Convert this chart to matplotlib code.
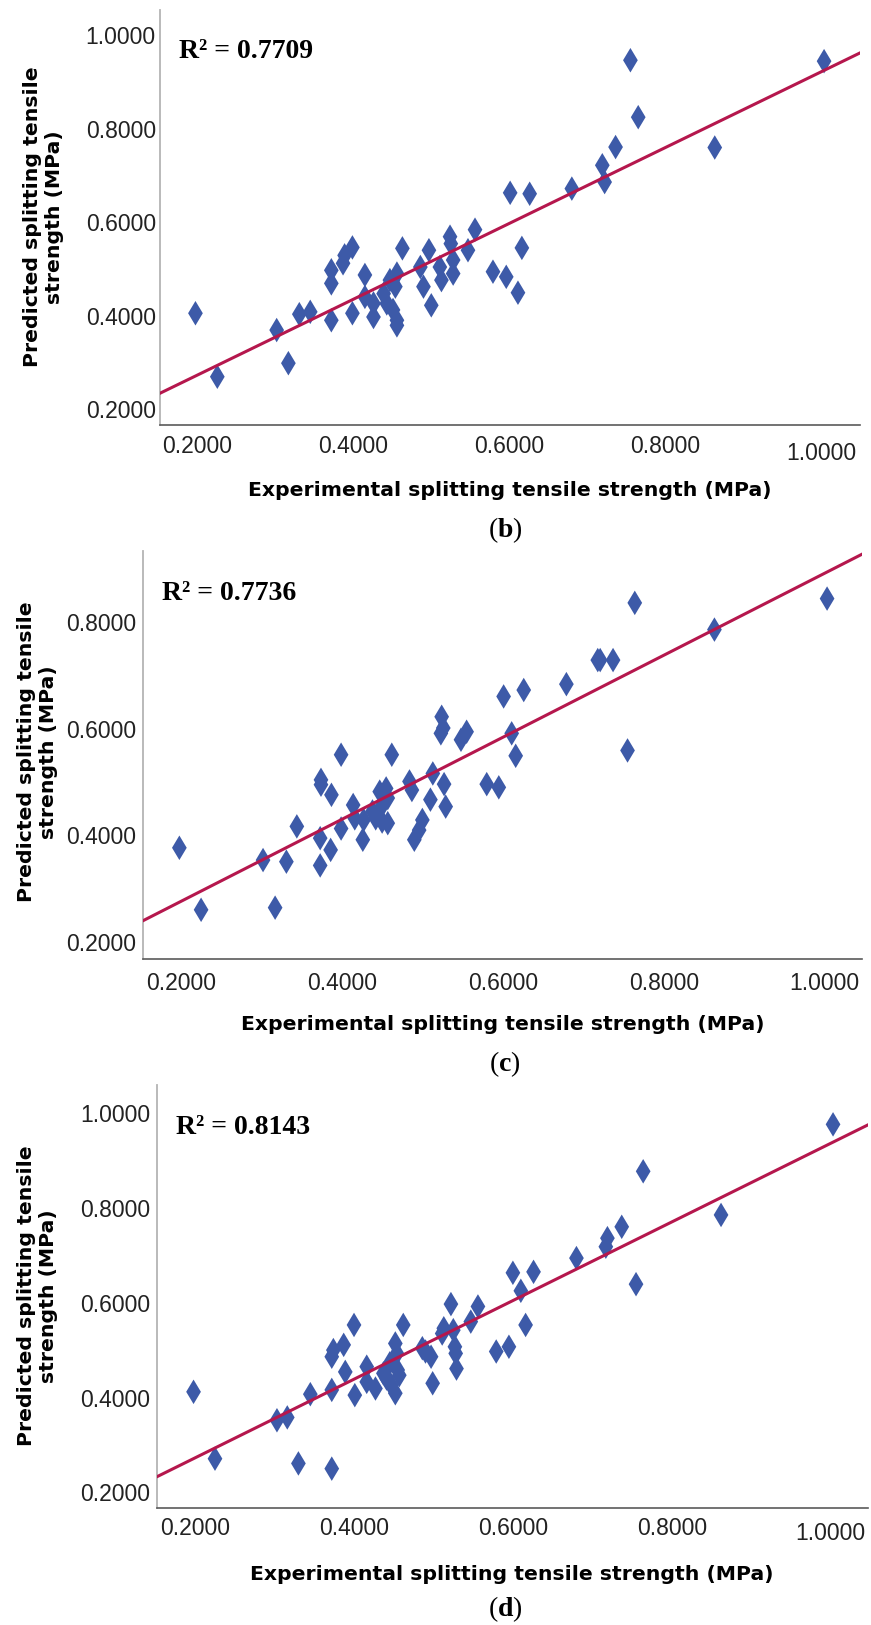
import matplotlib
matplotlib.use("Agg")
import matplotlib.pyplot as plt
import matplotlib.transforms as mtransforms
from matplotlib.ticker import FormatStrFormatter

plt.rcParams["mathtext.fontset"] = "custom"
plt.rcParams["mathtext.rm"] = "Liberation Serif"
plt.rcParams["mathtext.bf"] = "Liberation Serif:bold"

# ---- panel (b) ----
exp_b = [0.198, 0.226, 0.302, 0.317, 0.331, 0.345, 0.372, 0.372, 0.372, 0.387,
         0.389, 0.399, 0.399, 0.415, 0.415, 0.426, 0.426, 0.439, 0.443, 0.447,
         0.451, 0.456, 0.456, 0.456, 0.463, 0.454, 0.486, 0.490, 0.497, 0.500,
         0.511, 0.513, 0.524, 0.525, 0.528, 0.528, 0.547, 0.556, 0.579, 0.596,
         0.601, 0.611, 0.616, 0.626, 0.680, 0.719, 0.722, 0.736, 0.755, 0.765,
         0.863, 1.003]
pred_b = [0.405, 0.269, 0.369, 0.298, 0.403, 0.408, 0.497, 0.469, 0.390, 0.512,
          0.529, 0.546, 0.405, 0.487, 0.440, 0.426, 0.397, 0.447, 0.426, 0.476,
          0.412, 0.390, 0.379, 0.490, 0.544, 0.462, 0.504, 0.462, 0.540, 0.422,
          0.504, 0.476, 0.569, 0.554, 0.519, 0.490, 0.540, 0.584, 0.494, 0.483,
          0.663, 0.449, 0.545, 0.661, 0.672, 0.722, 0.686, 0.761, 0.947, 0.825,
          0.760, 0.945]
fit_b = (0.8133, 0.1095)   # slope, intercept
r2_b = 0.7709

# ---- panel (c) ----
exp_c = [0.198, 0.225, 0.302, 0.317, 0.331, 0.344, 0.373, 0.373, 0.374, 0.374,
         0.386, 0.387, 0.399, 0.399, 0.414, 0.416, 0.426, 0.427, 0.438, 0.442,
         0.447, 0.448, 0.450, 0.455, 0.457, 0.457, 0.462, 0.484, 0.487, 0.490,
         0.496, 0.500, 0.510, 0.513, 0.523, 0.524, 0.526, 0.527, 0.529, 0.548,
         0.555, 0.580, 0.595, 0.601, 0.611, 0.616, 0.626, 0.679, 0.718, 0.721,
         0.737, 0.755, 0.764, 0.863, 1.003]
pred_c = [0.377, 0.261, 0.354, 0.265, 0.351, 0.417, 0.395, 0.344, 0.504, 0.495,
          0.373, 0.476, 0.551, 0.413, 0.457, 0.432, 0.392, 0.429, 0.445, 0.432,
          0.482, 0.451, 0.426, 0.488, 0.470, 0.423, 0.551, 0.501, 0.485, 0.392,
          0.410, 0.429, 0.467, 0.516, 0.591, 0.622, 0.601, 0.496, 0.454, 0.579,
          0.594, 0.496, 0.490, 0.660, 0.591, 0.549, 0.672, 0.683, 0.728, 0.728,
          0.728, 0.559, 0.835, 0.785, 0.843]
fit_c = (0.767, 0.1234)
r2_c = 0.7736

# ---- panel (d) ----
exp_d = [0.198, 0.225, 0.303, 0.316, 0.330, 0.345, 0.372, 0.372, 0.372, 0.374,
         0.387, 0.389, 0.400, 0.401, 0.416, 0.416, 0.427, 0.437, 0.441, 0.445,
         0.447, 0.452, 0.452, 0.454, 0.455, 0.457, 0.462, 0.486, 0.490, 0.497,
         0.499, 0.511, 0.513, 0.522, 0.525, 0.527, 0.528, 0.529, 0.547, 0.556,
         0.579, 0.595, 0.600, 0.610, 0.616, 0.626, 0.680, 0.717, 0.719, 0.737,
         0.755, 0.764, 0.862, 1.003]
pred_d = [0.412, 0.271, 0.352, 0.358, 0.261, 0.407, 0.250, 0.416, 0.486, 0.500,
          0.511, 0.454, 0.553, 0.405, 0.465, 0.433, 0.419, 0.451, 0.440, 0.472,
          0.426, 0.409, 0.514, 0.493, 0.458, 0.447, 0.553, 0.504, 0.497, 0.486,
          0.430, 0.535, 0.546, 0.597, 0.542, 0.507, 0.493, 0.461, 0.560, 0.592,
          0.497, 0.507, 0.663, 0.625, 0.553, 0.665, 0.694, 0.718, 0.736, 0.760,
          0.639, 0.877, 0.785, 0.976]
fit_d = (0.829, 0.107)
r2_d = 0.8143

xticks = [0.2, 0.4, 0.6, 0.8, 1.0]
xlabel = "Experimental splitting tensile strength (MPa)"
ylabel = "Predicted splitting tensile\nstrength (MPa)"

W, H = 871, 1625
BLUE = "#3D5AA8"
RED = "#B5174D"

panels = [
    dict(x=exp_b, y=pred_b, fit=fit_b, r2=r2_b, tag="b",
         yticks=[0.2, 0.4, 0.6, 0.8, 1.0],
         rect=(160, 10, 860, 425), xlim=(0.1526, 1.049), ylim=(0.1656, 1.0546),
         ylab=(43, 217), xlab=(510, 490), tagpos=(505, 530),
         xpad=7, ypad=3, drop=7),
    dict(x=exp_c, y=pred_c, fit=fit_c, r2=r2_c, tag="c",
         yticks=[0.2, 0.4, 0.6, 0.8],
         rect=(143, 551, 862, 959), xlim=(0.1528, 1.0464), ylim=(0.169, 0.932),
         ylab=(37, 752), xlab=(503, 1024), tagpos=(505, 1064),
         xpad=9, ypad=5, drop=0),
    dict(x=exp_d, y=pred_d, fit=fit_d, r2=r2_d, tag="d",
         yticks=[0.2, 0.4, 0.6, 0.8, 1.0],
         rect=(157, 1085, 868, 1508), xlim=(0.152, 1.047), ylim=(0.167, 1.059),
         ylab=(37, 1296), xlab=(512, 1575), tagpos=(505, 1609),
         xpad=6.5, ypad=5, drop=5),
]

fig = plt.figure(figsize=(W / 100, H / 100), dpi=100)

for p in panels:
    l, t, r, b = p["rect"]
    ax = fig.add_axes([l / W, 1 - b / H, (r - l) / W, (b - t) / H])

    ax.scatter(p["x"], p["y"], marker="d", s=156, color=BLUE,
               edgecolors="none", zorder=2, clip_on=False)
    ax.axline((0, p["fit"][1]), slope=p["fit"][0], color=RED, lw=2.2, zorder=3)

    ax.set_xlim(*p["xlim"])
    ax.set_ylim(*p["ylim"])
    ax.set_xticks(xticks)
    ax.set_yticks(p["yticks"])
    ax.xaxis.set_major_formatter(FormatStrFormatter("%.4f"))
    ax.yaxis.set_major_formatter(FormatStrFormatter("%.4f"))

    for s in ("top", "right"):
        ax.spines[s].set_visible(False)
    ax.spines["left"].set_color("#b4b4b4")
    ax.spines["left"].set_linewidth(1.3)
    ax.spines["bottom"].set_color("#5a5a5a")
    ax.spines["bottom"].set_linewidth(1.2)

    ax.tick_params(length=0, labelsize=16.5, labelfontfamily="Liberation Sans",
                   labelcolor="#222222")
    ax.tick_params(axis="x", pad=p["xpad"])
    ax.tick_params(axis="y", pad=p["ypad"])

    # the 1.0000 label sits a little lower in the original
    if p["drop"]:
        last = ax.get_xticklabels()[-1]
        last.set_transform(last.get_transform() + mtransforms.ScaledTranslation(
            0, -p["drop"] / 100, fig.dpi_scale_trans))

    ax.annotate(f"R\u00b2 = {p['r2']:.4f}", xy=(0, 1), xycoords="axes fraction",
                xytext=(19, -42), textcoords="offset pixels", ha="left", va="center",
                family="Liberation Serif", weight="bold", fontsize=20)

    fig.text(p["ylab"][0] / W, 1 - p["ylab"][1] / H, ylabel, rotation=90,
             ha="center", va="center", multialignment="center",
             family="DejaVu Sans", weight="bold", fontsize=14.7, linespacing=1.2)
    fig.text(p["xlab"][0] / W, 1 - p["xlab"][1] / H, xlabel,
             ha="center", va="center", family="DejaVu Sans", weight="bold",
             fontsize=14.7)
    fig.text(p["tagpos"][0] / W, 1 - p["tagpos"][1] / H,
             "($\\mathbf{%s}$)" % p["tag"], ha="center", va="center",
             family="Liberation Serif", fontsize=20)

fig.savefig("out.png", dpi=100)
